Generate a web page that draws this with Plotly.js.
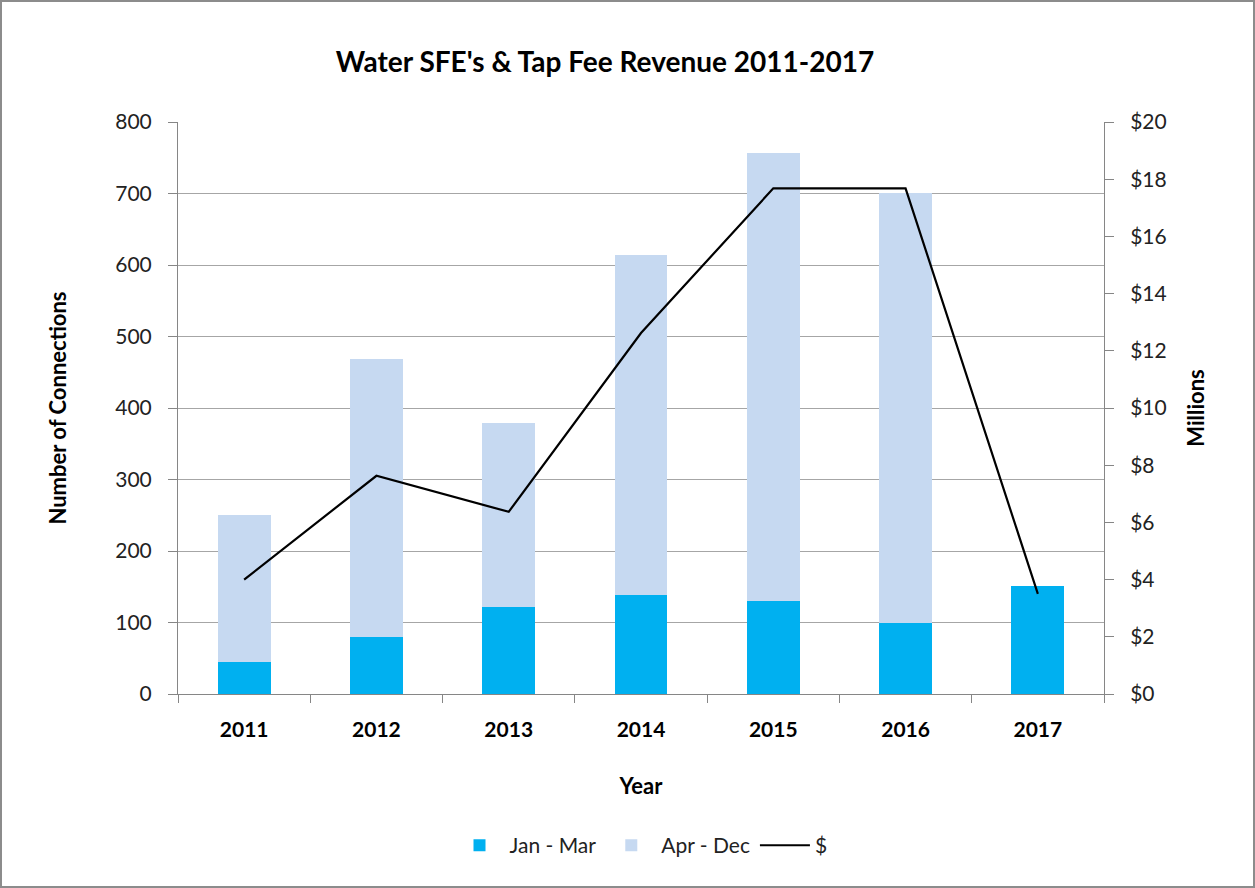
<!DOCTYPE html>
<html>
<head>
<meta charset="utf-8">
<script src="https://cdn.plot.ly/plotly-3.0.1.min.js"></script>
<style>
html,body{margin:0;padding:0;background:#fff;}
#chart{width:1255px;height:888px;box-sizing:border-box;border:2px solid #8c8c8c;}
</style>
</head>
<body>
<div id="chart"></div>
<script>
const years = ['2011','2012','2013','2014','2015','2016','2017'];
const janMar = [45, 80, 122, 138, 130, 99, 151];
const aprDec = [205, 388, 257, 476, 626, 602, 0];
const revenue = [4.0, 7.63, 6.37, 12.62, 17.68, 17.68, 3.5];
const leftTicks = [0,100,200,300,400,500,600,700,800];
const rightTicks = [0,2,4,6,8,10,12,14,16,18,20];
const rightTickText = rightTicks.map(v => '$' + v);

const FONT = 'Lato, "Open Sans", sans-serif';
const traces = [
  {type:'bar', name:'Jan - Mar', x:years, y:janMar, marker:{color:'#00b0f0'}, hoverinfo:'y'},
  {type:'bar', name:'Apr - Dec', x:years, y:aprDec, marker:{color:'#c6d9f1'}, hoverinfo:'y'},
  {type:'scatter', mode:'lines', name:'$', x:years, y:revenue, yaxis:'y2',
   line:{color:'#000000', width:2.2}}
];
const layout = {
  width:1251, height:884,
  paper_bgcolor:'#ffffff', plot_bgcolor:'#ffffff',
  barmode:'stack', bargap:0.6,
  margin:{l:176, r:149, t:120, b:192},
  font:{family:FONT, size:21, color:'#222'},
  title:{text:"<b>Water SFE's &amp; Tap Fee Revenue 2011-2017</b>", x:0.482, xanchor:'center', y:0.932, yanchor:'middle',
         font:{family:FONT, size:28, color:'#000'}},
  xaxis:{type:'category', tickson:'boundaries', ticks:'outside', ticklen:8, tickcolor:'#868686',
         showline:true, linecolor:'#868686', linewidth:1, showgrid:false, ticklabelstandoff:17,
         tickfont:{family:FONT, size:21, color:'#000', weight:'bold'},
         title:{text:'<b>Year</b>', font:{family:FONT, size:22, color:'#000'}, standoff:38}},
  yaxis:{range:[0,800], tickvals:leftTicks, ticks:'outside', ticklen:9, tickcolor:'#868686',
         showline:true, linecolor:'#868686', linewidth:1, showgrid:true, gridcolor:'#a6a6a6', gridwidth:1,
         zeroline:false, ticklabelstandoff:12, tickfont:{family:FONT, size:21, color:'#222'},
         title:{text:'<b>Number of Connections</b>', font:{family:FONT, size:22, color:'#000'}, standoff:42}},
  yaxis2:{overlaying:'y', side:'right', range:[0,20], tickvals:rightTicks, ticktext:rightTickText,
          ticks:'outside', ticklen:9, tickcolor:'#868686', showline:true, linecolor:'#868686', linewidth:1,
          showgrid:false, zeroline:false, ticklabelstandoff:12, tickfont:{family:FONT, size:21, color:'#222'},
          title:{text:'<b>Millions</b>', font:{family:FONT, size:22, color:'#000'}, standoff:22}},
  legend:{orientation:'h', x:0.5, xanchor:'center', y:-0.265, yanchor:'middle',
          font:{family:FONT, size:21, color:'#222'}, traceorder:'normal', itemwidth:50},
  showlegend:true
};
Plotly.newPlot('chart', traces, layout, {displayModeBar:false, staticPlot:true});
</script>
</body>
</html>
